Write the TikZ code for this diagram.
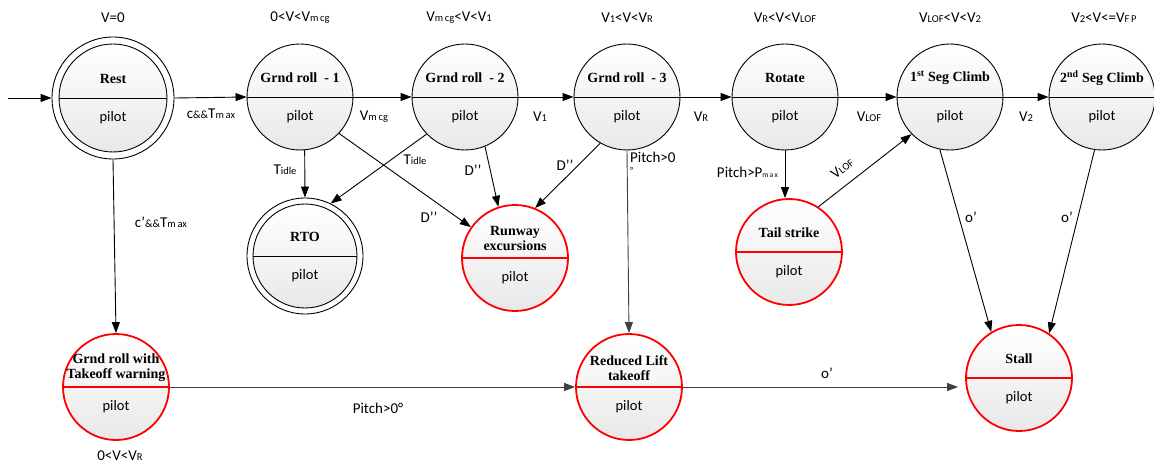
\documentclass[tikz,border=0pt]{standalone}
\usepackage{fontspec}
\setmainfont{Carlito}
\newfontfamily\titlefont{Liberation Serif}
\usetikzlibrary{arrows.meta}
% small index letters set on the baseline (V_mcg, V_LOF, ...)
\newcommand\vsub[1]{{\fontsize{10.5pt}{11pt}\selectfont #1}}
\newcommand\tinysub[1]{{\fontsize{7.5pt}{8pt}\selectfont #1}}
\tikzset{
  stnode/.style={circle, draw=black, line width=0.9pt, minimum size=106pt,
    inner sep=0pt, top color=white, bottom color=black!9},
  warn/.style={stnode, draw=red, line width=1.8pt},
  ring/.style={circle, draw=black, line width=0.9pt, minimum size=#1, inner sep=0pt},
  ttl/.style={font=\titlefont\bfseries\fontsize{14pt}{15pt}\selectfont, align=center, inner sep=0pt},
  lbl/.style={font=\fontsize{15pt}{17pt}\selectfont, inner sep=1pt},
  plbl/.style={font=\fontsize{14.5pt}{16pt}\selectfont, inner sep=1pt},
  arr/.style={-{Triangle[length=11pt,width=8pt]}, line width=0.9pt},
  garr/.style={arr, draw=black!75},
  blackdiv/.style={line width=0.9pt, draw=black},
  reddiv/.style={line width=1.8pt, draw=red},
}
% state: circle, divider, bold title in the upper half, actor in the lower half
\newcommand\mkstate[5]{%
  \node[#2] (#1) at (#3) {};
  \draw[#5] (#1.west) -- (#1.east);
  \node[ttl] (#1-t) at ([yshift=19pt]#1.center) {#4};
  \node[plbl] (#1-p) at ([yshift=-20pt]#1.center) {pilot};
}
\begin{document}
\begin{tikzpicture}[x=1pt, y=-1pt]
\useasboundingbox (0,0) rectangle (1154,465);

% outer rings of the final states
\node[ring=122pt] (rest-o) at (113,98) {};
\node[ring=116pt] (rto-o) at (305,256) {};

% states
\mkstate{rest}{stnode, minimum size=108pt}{113,98}{Rest}{blackdiv}
\mkstate{gr1}{stnode}{300,97}{Grnd roll\ \ - 1}{blackdiv}
\mkstate{gr2}{stnode}{465,97}{Grnd roll\ \ - 2}{blackdiv}
\mkstate{gr3}{stnode}{627,97}{Grnd roll\ \ - 3}{blackdiv}
\mkstate{rot}{stnode}{785,97}{Rotate}{blackdiv}
\mkstate{seg1}{stnode}{950,97}{1\textsuperscript{st} Seg Climb}{blackdiv}
\mkstate{seg2}{stnode}{1102,97}{2\textsuperscript{nd} Seg Climb}{blackdiv}
\mkstate{rto}{stnode, minimum size=104pt}{305,256}{RTO}{blackdiv}
\mkstate{rwy}{warn}{515,258}{Runway\\excursions}{reddiv}
\mkstate{tail}{warn}{789,252}{Tail strike}{reddiv}
\mkstate{grtw}{warn}{116,387}{Grnd roll with\\Takeoff warning}{reddiv}
\mkstate{rl}{warn}{629,387}{Reduced Lift\\takeoff}{reddiv}
\mkstate{stall}{warn}{1019,378}{Stall}{reddiv}

% speed ranges above the top row
\node[lbl] (r0) at (113,18) {V=0};
\node[lbl] (r1) at (300,18) {0<V<V\vsub{m\,cg}};
\node[lbl] (r2) at (459,18) {V\vsub{m\,cg}<V<V\vsub{1}};
\node[lbl] (r3) at (627,18) {V\vsub{1}<V<V\vsub{R}};
\node[lbl] (r4) at (785,18) {V\vsub{R}<V<V\vsub{LOF}};
\node[lbl] (r5) at (950,18) {V\vsub{LOF}<V<V\vsub{2}};
\node[lbl] (r6) at (1104,18) {V\vsub{2}<V<=V\vsub{F\,P}};
\node[lbl] (r7) at (120,456) {0<V<V\vsub{R}};

% entry arrow
\coordinate (start) at (8,98);
\draw[arr] (start) -- (rest-o.west);

% top row transitions
\draw[arr] (rest-o.east) -- (gr1.west);
\draw[arr] (gr1.east) -- (gr2.west);
\draw[arr] (gr2.east) -- (gr3.west);
\draw[arr] (gr3.east) -- (rot.west);
\draw[arr] (rot.east) -- (seg1.west);
\draw[arr] (seg1.east) -- (seg2.west);
\node[lbl] (l1) at (211,114) {c{\fontsize{11pt}{12pt}\selectfont\&\&}T\vsub{m\,ax}};
\node[lbl] (l2) at (374,117) {V\vsub{m\,cg}};
\node[lbl] (l3) at (540,117) {V\vsub{1}};
\node[lbl] (l4) at (701,117) {V\vsub{R}};
\node[lbl] (l5) at (869,117) {V\vsub{LOF}};
\node[lbl] (l6) at (1026,117) {V\vsub{2}};

% aborted takeoff and runway excursions
\draw[arr] (gr1.275) -- (rto-o.north);
\draw[arr] (gr2.224) -- (rto-o.64);
\draw[arr] (gr1.317) -- (rwy.145);
\draw[arr] (gr2.292) -- (rwy.108);
\draw[arr] (gr3.240) -- (rwy.68);
\node[lbl] (l7) at (285,170) {T\vsub{idle}};
\node[lbl] (l8) at (415,160) {T\vsub{idle}};
\node[lbl] (l9) at (429,217) {D’’};
\node[lbl] (l10) at (473,170) {D’’};
\node[lbl] (l11) at (565,165) {D’’};

% warning paths
\draw[arr] (rest-o.south) -- (grtw.north);
\node[lbl] (l12) at (161,222) {c’{\fontsize{11pt}{12pt}\selectfont\&\&}T\vsub{m\,ax}};
\draw[garr] (gr3.south) -- (rl.north);
\node[lbl, anchor=north west, align=left] (l13) at (629,151) {Pitch>0\\[-6pt]{\fontsize{9pt}{9pt}\selectfont °}};
\draw[arr] (rot.south) -- (rot.south |- tail.north);
\node[lbl, anchor=east] (l14) at (779,172) {Pitch>P\tinysub{m\,a\,x}};
\draw[arr] (tail.57) -- (seg1.224);
\node[lbl, rotate=38, inner sep=0pt] (l15) at (842,168) {V\vsub{LOF}};
\draw[arr] (seg1.259) -- (stall.121);
\draw[arr] (seg2.262) -- (stall.56);
\node[lbl] (l16) at (971,217) {o’};
\node[lbl] (l17) at (1067,217) {o’};

% bottom row
\draw[garr] (grtw.east) -- (rl.west);
\node[lbl] (l18) at (378,408) {Pitch>0°};
\draw[garr] (rl.east) -- ([xshift=-7pt]rl.east -| stall.west);
\node[lbl] (l19) at (827,373) {o’};
\end{tikzpicture}
\end{document}
